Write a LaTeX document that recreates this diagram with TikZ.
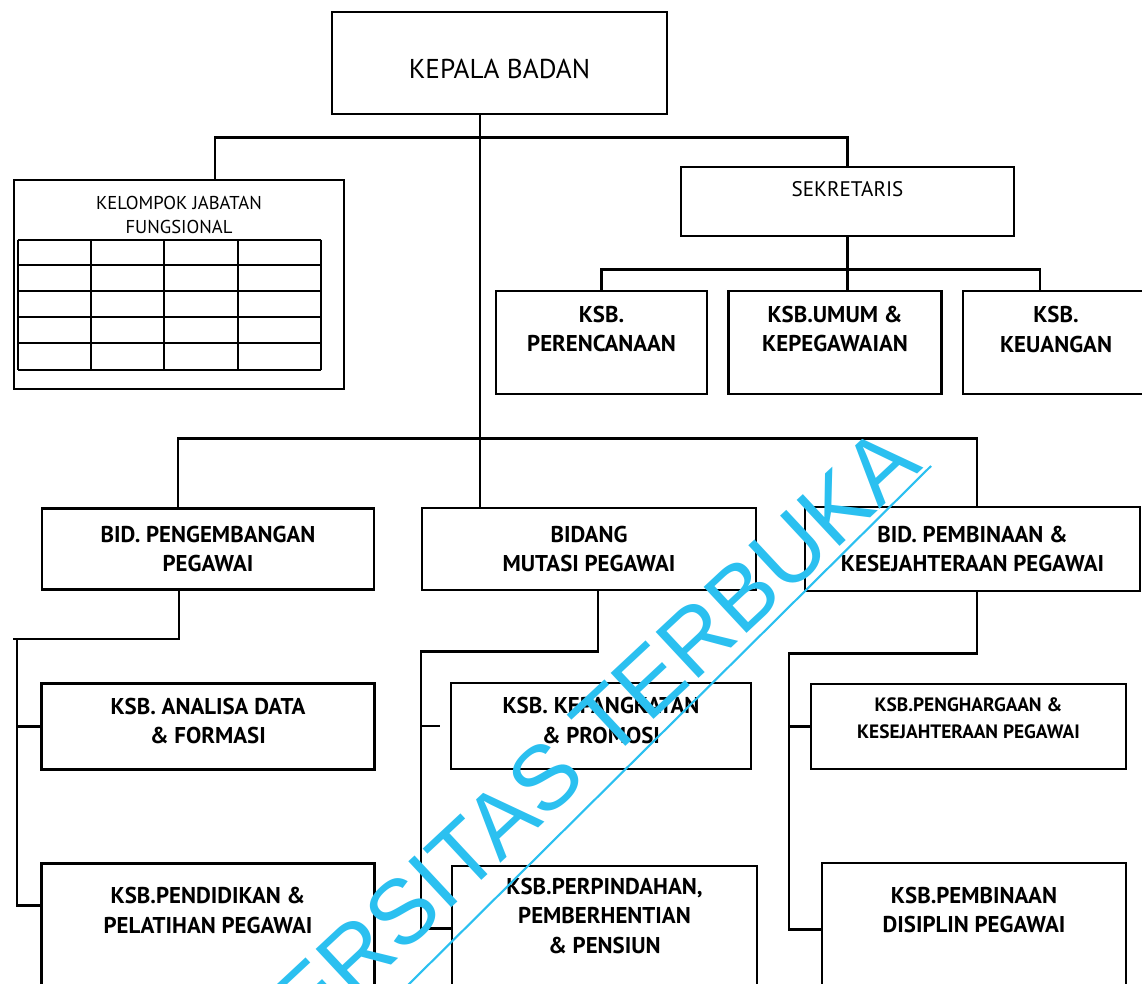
\documentclass[tikz,border=0pt]{standalone}
\usepackage{fontspec}
\setmainfont{PT Sans}
\newfontfamily\wmfont{Liberation Sans}
\usepackage{xcolor}
\usepackage{tikz}
\usetikzlibrary{positioning}
\definecolor{wmcyan}{HTML}{2BC0F0}
\tikzstyle{line} = [draw, line width=1.5pt]
\tikzstyle{block} = [rectangle, draw, line width=1.5pt, fill=white, align=center,
    font=\bfseries\fontsize{13}{17}\selectfont, minimum width=6.66cm, minimum height=1.68cm, inner sep=1pt]
\tikzstyle{subblock} = [block, minimum width=4.25cm, minimum height=2.06cm]
\tikzstyle{tallblock} = [block, minimum height=2.48cm]
\tikzstyle{watermark} = [font=\wmfont\fontsize{52}{52}\selectfont, text=wmcyan, inner sep=0pt]
% lift the text of a box without changing the box
\newcommand{\liftup}[2]{\raisebox{#1}[\height][\depth]{\begin{tabular}{@{}c@{}}#2\end{tabular}}}

\begin{document}
\begin{tikzpicture}[node distance = 2cm, auto]
      \useasboundingbox (0,0) rectangle (22.84,-19.66);
      \clip (0,0) rectangle (22.84,-19.66);
      % Place top nodes
      \node [block, minimum width=6.7cm, minimum height=2.04cm, font=\fontsize{15.5}{18}\selectfont] (kepala) at (9.99,-1.26) {\liftup{-0.18cm}{KEPALA BADAN}};
      \node [block, minimum width=6.6cm, minimum height=4.18cm, below of=kepala, node distance=4.43cm, xshift=-6.41cm] (kelompok) {};
      \node [below=0.34cm of kelompok.north, inner sep=0pt, align=center, font=\fontsize{10.6}{13.6}\selectfont] (kelompoktitle) {KELOMPOK JABATAN\\FUNGSIONAL};
      \node [block, minimum width=6.66cm, minimum height=1.38cm, below of=kepala, node distance=2.77cm, xshift=6.96cm, font=\fontsize{12}{14}\selectfont] (sekretaris) {\liftup{0.2cm}{SEKRETARIS}};
      % Place sekretariat nodes
      \node [subblock, below of=sekretaris, node distance=2.82cm, xshift=-0.25cm] (umum) {\liftup{0.23cm}{KSB.UMUM \&\\KEPEGAWAIAN}};
      \node [subblock, minimum width=4.22cm, left of=umum, node distance=4.67cm] (perencanaan) {\liftup{0.23cm}{KSB.\\PERENCANAAN}};
      \node [subblock, minimum width=3.72cm, right of=umum, node distance=4.42cm] (keuangan) {\liftup{0.22cm}{KSB.\\KEUANGAN}};
      % Place bidang nodes
      \node [block, minimum width=6.68cm, minimum height=1.64cm, below of=kepala, node distance=9.72cm, xshift=1.79cm] (bidmutasi) {BIDANG\\MUTASI PEGAWAI};
      \node [block, minimum width=6.64cm, minimum height=1.62cm, left of=bidmutasi, node distance=7.62cm] (bidpeng) {BID. PENGEMBANGAN\\PEGAWAI};
      \node [block, minimum width=6.7cm, right of=bidmutasi, node distance=7.67cm] (bidbina) {BID. PEMBINAAN \&\\KESEJAHTERAAN PEGAWAI};
      % Place kepala sub bidang nodes
      \node [block, minimum height=1.72cm, below of=bidpeng, node distance=3.55cm] (analisa) {\liftup{0.07cm}{KSB. ANALISA DATA\\\& FORMASI}};
      \node [tallblock, below of=analisa, node distance=3.98cm] (pendidikan) {\liftup{0.26cm}{KSB.PENDIDIKAN \&\\PELATIHAN PEGAWAI}};
      \node [block, minimum width=6cm, minimum height=1.72cm, below of=bidmutasi, node distance=3.54cm, xshift=0.24cm] (kepangkatan) {\liftup{0.07cm}{KSB. KEPANGKATAN\\\& PROMOSI}};
      \node [tallblock, minimum width=6.1cm, below of=kepangkatan, node distance=4.04cm, xshift=0.07cm] (perpindahan) {\liftup{0.2cm}{KSB.PERPINDAHAN,\\PEMBERHENTIAN\\\& PENSIUN}};
      \node [block, minimum width=6.3cm, minimum height=1.7cm, below of=bidbina, node distance=3.55cm, xshift=-0.08cm, font=\bfseries\fontsize{11}{15.3}\selectfont] (penghargaan) {\liftup{0.14cm}{KSB.PENGHARGAAN \&\\KESEJAHTERAAN PEGAWAI}};
      \node [tallblock, minimum width=6.08cm, below of=penghargaan, node distance=3.97cm, xshift=0.11cm] (disiplin) {\liftup{0.26cm}{KSB.PEMBINAAN\\DISIPLIN PEGAWAI}};
      % Table of kelompok jabatan fungsional
      \foreach \cx in {0,1.46,2.92,4.40,6.06}
        \draw [line width=1pt] ([shift={(0.10+\cx,-1.22)}]kelompok.north west) -- ++(0,-2.60);
      \foreach \ry in {0,0.50,1.02,1.54,2.06,2.60}
        \draw [line width=1pt] ([shift={(0.10,-1.22-\ry)}]kelompok.north west) -- ++(6.06,0);
      % Draw edges
      \coordinate (trunk) at ([xshift=-0.39cm]kepala.south);
      \path [line] (trunk) -- (trunk |- bidmutasi.north);
      \path [line] ([xshift=0.72cm]kelompok.north) |- ([yshift=-0.44cm]trunk) -| (sekretaris.north);
      \path [line] (sekretaris.south) -- (sekretaris.south |- umum.north);
      \path [line] (perencanaan.north) |- ([yshift=-0.64cm]sekretaris.south) -| ([xshift=-0.32cm]keuangan.north);
      \path [line] ([xshift=-0.6cm]bidpeng.north) |- ([yshift=1.36cm]bidmutasi.north) -| ([xshift=0.09cm]bidbina.north);
      % Draw sub bidang edges
      \coordinate (railA) at ([xshift=-3.82cm, yshift=-0.96cm]bidpeng.south);
      \path [line] ([xshift=-0.58cm]bidpeng.south) |- ([xshift=-0.08cm]railA) (railA) |- ([yshift=-0.86cm]pendidikan.north west);
      \path [line] (railA |- analisa.west) -- (analisa.west);
      \coordinate (railB) at ([xshift=-3.36cm, yshift=-1.2cm]bidmutasi.south);
      \path [line] ([xshift=0.18cm]bidmutasi.south) |- (railB) |- ([yshift=-1.28cm]perpindahan.north west);
      \path [line] (railB |- kepangkatan.west) -- ([xshift=-0.2cm]kepangkatan.west);
      \coordinate (railC) at ([xshift=-3.67cm, yshift=-1.22cm]bidbina.south);
      \path [line] ([xshift=0.09cm]bidbina.south) |- (railC) |- ([yshift=-1.36cm]disiplin.north west);
      \path [line] (railC |- penghargaan.west) -- (penghargaan.west);
      % Watermark
      \node [watermark, rotate=43, anchor=base east] (wmtext) at (18.48,-9.36) {UNIVERSITAS TERBUKA};
      \coordinate (wmstart) at (8.0,-19.86);
      \coordinate (wmend) at (18.62,-9.32);
      \draw [wmcyan, line width=1.2pt] (wmstart) -- (wmend);
  \end{tikzpicture}
\end{document}
